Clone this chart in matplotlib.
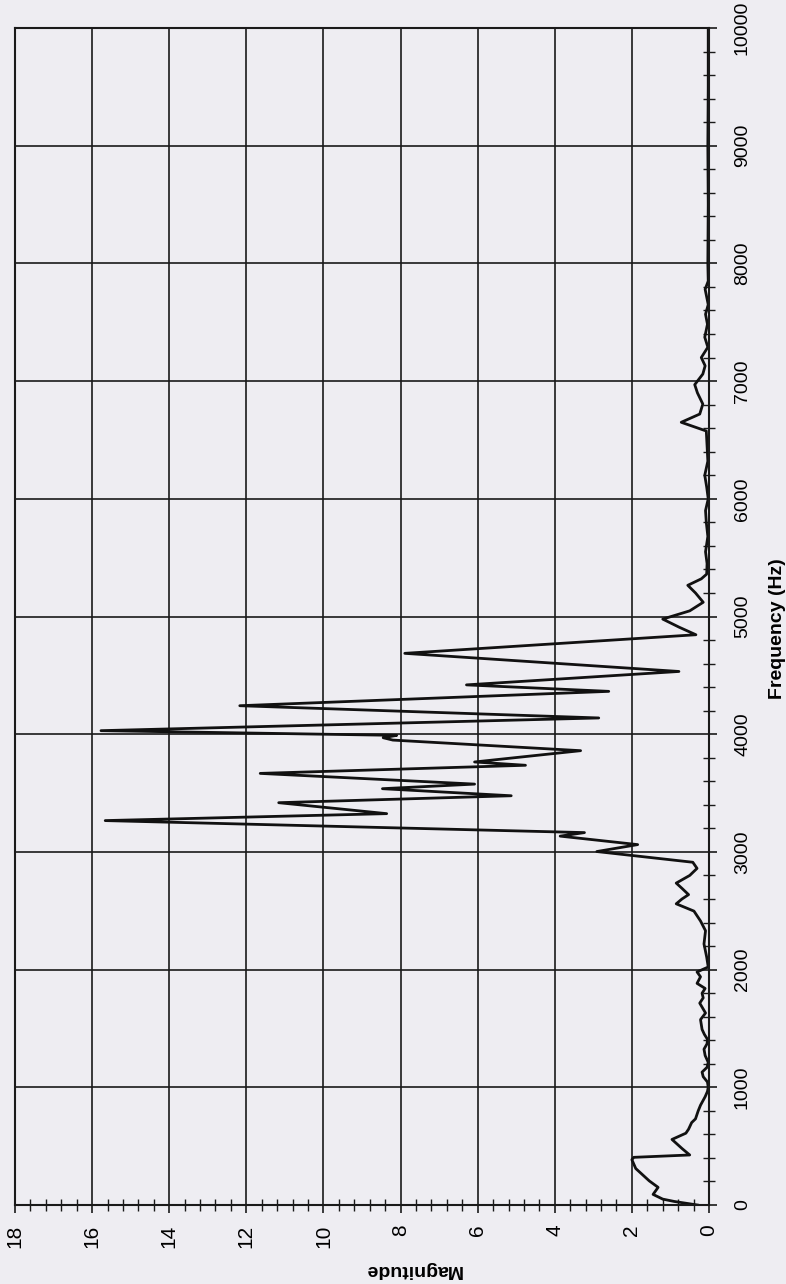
import numpy as np
import matplotlib.pyplot as plt
from matplotlib.ticker import MultipleLocator

# spectrum: frequency (Hz) and magnitude
freq_hz = [0, 30, 50, 90, 150, 205, 265, 310, 385, 405, 425, 480, 557, 610, 644,
           700, 732, 800, 848, 920, 965, 1000, 1045, 1090, 1129, 1170, 1212, 1270,
           1324, 1370, 1408, 1450, 1492, 1575, 1631, 1715, 1760, 1799, 1840, 1883,
           1939, 1980, 2022, 2106, 2218, 2330, 2413, 2497, 2559, 2600, 2637, 2690,
           2735, 2800, 2860, 2912, 3003, 3062, 3134, 3164, 3266, 3325, 3418, 3477,
           3537, 3576, 3667, 3736, 3764, 3860, 3950, 3970, 3990, 4030, 4138, 4242,
           4364, 4419, 4533, 4687, 4845, 4910, 4978, 5048, 5121, 5200, 5265, 5320,
           5360, 5450, 5550, 5680, 5800, 5900, 6000, 6100, 6200, 6320, 6450, 6576,
           6650, 6720, 6805, 6900, 6970, 7060, 7130, 7200, 7288, 7373, 7483, 7568,
           7650, 7780, 7850, 8000, 8500, 9000, 9500, 10000]
magnitude = [0.30, 0.90, 1.20, 1.45, 1.32, 1.55, 1.75, 1.90, 2.00, 1.95, 0.50, 0.70,
             0.96, 0.60, 0.53, 0.45, 0.35, 0.28, 0.22, 0.10, 0.04, 0.02, 0.04, 0.15,
             0.18, 0.05, 0.02, 0.10, 0.13, 0.05, 0.04, 0.12, 0.18, 0.22, 0.09, 0.24,
             0.15, 0.18, 0.10, 0.31, 0.22, 0.31, 0.02, 0.06, 0.13, 0.09, 0.22, 0.39,
             0.85, 0.70, 0.53, 0.70, 0.85, 0.50, 0.31, 0.42, 2.91, 1.85, 3.86, 3.23,
             15.66, 8.36, 11.16, 5.13, 8.47, 6.08, 11.64, 4.76, 6.08, 3.33, 8.20, 8.45,
             8.10, 15.77, 2.86, 12.17, 2.60, 6.29, 0.78, 7.89, 0.34, 0.78, 1.20, 0.50,
             0.15, 0.35, 0.55, 0.20, 0.06, 0.05, 0.09, 0.03, 0.07, 0.09, 0.02, 0.06,
             0.11, 0.03, 0.05, 0.07, 0.72, 0.24, 0.16, 0.30, 0.37, 0.16, 0.10, 0.20,
             0.03, 0.11, 0.04, 0.09, 0.02, 0.10, 0.02, 0.03, 0.02, 0.03, 0.02, 0.02]

mag_ticks = np.arange(0, 19, 2)
freq_ticks = np.arange(0, 10001, 1000)

plt.rcParams['font.family'] = 'Liberation Sans'
paper = '#eeedf2'

W, H = 786, 1284
fig = plt.figure(figsize=(W / 100, H / 100), dpi=100, facecolor=paper)
# page is turned sideways: frequency runs up the sheet, magnitude grows to the left
ax = fig.add_axes([15 / W, (H - 1205) / H, 694 / W, (1205 - 28) / H])
ax.set_facecolor(paper)

ax.plot(magnitude, freq_hz, color='#111111', lw=2.0, solid_joinstyle='round')

ax.set_xlim(18, 0)
ax.set_ylim(0, 10000)
ax.set_xticks(mag_ticks)
ax.set_yticks(freq_ticks)
ax.xaxis.set_minor_locator(MultipleLocator(0.4))
ax.yaxis.set_minor_locator(MultipleLocator(200))

ax.yaxis.tick_right()
ax.yaxis.set_label_position('right')
ax.grid(True, which='major', color='#1a1a1a', lw=1.2)
ax.set_axisbelow(True)
for sp in ax.spines.values():
    sp.set_color('#1a1a1a')
    sp.set_linewidth(1.5)

ax.tick_params(which='major', direction='out', length=6, width=1.2, color='#1a1a1a',
               labelsize=15, pad=8)
ax.tick_params(which='minor', direction='inout', length=8, width=1.0, color='#1a1a1a')
ax.tick_params(axis='x', which='both', top=False, labelrotation=90)
ax.tick_params(axis='y', which='both', left=False, labelrotation=90, pad=12,
               labelsize=14)
for lbl in ax.get_yticklabels():
    lbl.set_va('center')

ax.set_xlabel('Magnitude', fontsize=14, fontweight='bold', rotation=180)
ax.xaxis.set_label_coords(0.573, -0.055)
ax.xaxis.label.set_va('center')
ax.set_ylabel('Frequency (Hz)', fontsize=14, fontweight='bold', rotation=90)
ax.yaxis.set_label_coords(1.099, 0.49)
ax.yaxis.label.set_va('center')

fig.savefig('out.png', dpi=100, facecolor=paper)
